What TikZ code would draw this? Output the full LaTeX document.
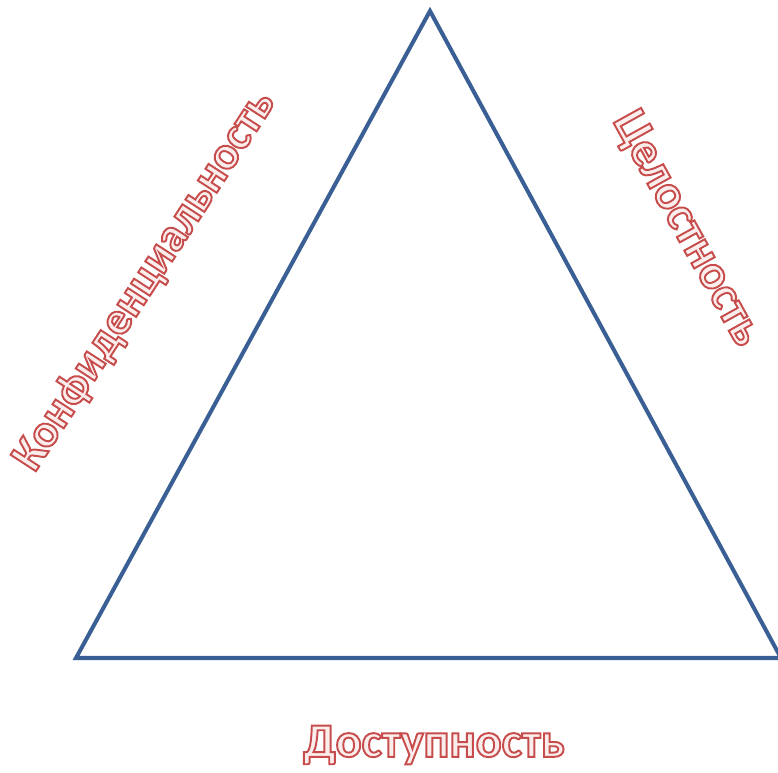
\documentclass[tikz,border=0pt]{standalone}
\usepackage{fontspec}
\setsansfont{Carlito}
\usetikzlibrary{positioning}
\definecolor{triblue}{HTML}{3A5F94}
\definecolor{labfill}{HTML}{FCEDED}
% outlined letters: fill labfill, stroke red
\newcommand{\cialabel}[1]{\textcolor{labfill}{\special{pdf:code 2 Tr 1.1 w 0.78 0.30 0.30 RG}#1\special{pdf:code 0 Tr}}}

\begin{document}
\begin{tikzpicture}[
  x=0.02cm, y=-0.02cm,
  side/.style={draw=triblue, line width=2.3pt, line join=miter},
  lab/.style={inner sep=0pt, font=\fontsize{27.5}{32}\selectfont\sffamily\bfseries}
]
\useasboundingbox (0,0) rectangle (778,773);
\coordinate (top) at (430,11);
\coordinate (bl) at (76,658);
\coordinate (br) at (781,658);
\draw[side] (top) -- (bl) -- (br) -- cycle;
% labels along the sides
\node[lab, rotate=57, font=\fontsize{26.5}{32}\selectfont\sffamily\bfseries] (conf) at (145,281) {\cialabel{Конфиденциальность}};
\node[lab, rotate=-61] (integ) at (686,229) {\cialabel{Целостность}};
\node[lab] (avail) at (434,745) {\cialabel{Доступность}};
\end{tikzpicture}
\end{document}
